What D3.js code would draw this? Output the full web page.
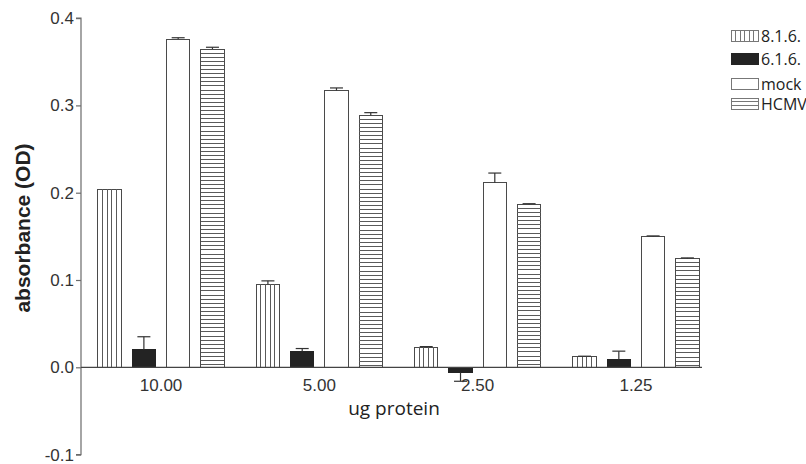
<!DOCTYPE html>
<html>
<head>
<meta charset="utf-8">
<script src="https://cdn.jsdelivr.net/npm/d3@7/dist/d3.min.js"></script>
<style>
  html, body { margin: 0; padding: 0; background: #fff; }
  svg { display: block; }
</style>
</head>
<body>
<svg id="chart" width="806" height="464"></svg>
<script>
// ---- data ----
const categories = ["10.00", "5.00", "2.50", "1.25"];
const seriesNames = ["8.1.6.", "6.1.6.", "mock", "HCMV"];
const values816 = [0.204, 0.095, 0.023, 0.012];
const errors816 = [0, 0.004, 0.0007, 0.0007];
const values616 = [0.020, 0.018, -0.006, 0.009];
const errors616 = [0.015, 0.0035, 0.010, 0.0095];
const valuesMock = [0.376, 0.317, 0.2115, 0.1497];
const errorsMock = [0.0015, 0.003, 0.011, 0.0008];
const valuesHCMV = [0.3646, 0.2887, 0.1867, 0.1245];
const errorsHCMV = [0.002, 0.003, 0.0007, 0.0008];
const yTickValues = [0.4, 0.3, 0.2, 0.1, 0.0, -0.1];
const yTickLabels = ["0.4", "0.3", "0.2", "0.1", "0.0", "-0.1"];
const yTitle = "absorbance (OD)";
const xTitle = "ug protein";

// ---- build table ----
const seriesValues = [values816, values616, valuesMock, valuesHCMV];
const seriesErrors = [errors816, errors616, errorsMock, errorsHCMV];
const rows = [];
categories.forEach((c, i) => {
  seriesNames.forEach((s, j) => {
    rows.push({cat: c, series: s, si: j, value: seriesValues[j][i], err: seriesErrors[j][i]});
  });
});

const svg = d3.select("#chart");
const axisColor = "#6b6b6b";
const barStroke = "#4a4a4a";
const stripeColor = "#5a5a5a";

// ---- scales ----
const y = d3.scaleLinear().domain([-0.1, 0.4]).range([454.6, 18.1]);
const x0 = d3.scaleBand().domain(categories).range([81, 716]).paddingInner(0.203).paddingOuter(0.107);
const x1 = d3.scaleBand().domain(seriesNames).range([0, x0.bandwidth()]).paddingInner(0.32).paddingOuter(0);

// ---- y axis ----
const yAxis = d3.axisLeft(y).tickValues(yTickValues).tickSize(5).tickPadding(2)
  .tickFormat((d, i) => yTickLabels[i]);
const gy = svg.append("g").attr("transform", "translate(81,0)").call(yAxis);
gy.select(".domain").attr("stroke", axisColor).attr("stroke-width", 1.2).attr("d", `M-5,${y(0.4)}H0V${y(-0.1)}H-5`);
gy.selectAll(".tick line").attr("stroke", axisColor).attr("stroke-width", 1.2);
gy.selectAll(".tick text").attr("fill", "#333").style("font-family", "'Liberation Sans', Arial, sans-serif").style("font-size", "17px");

// ---- bars ----
const bars = svg.append("g");
rows.forEach(r => {
  const bx = x0(r.cat) + x1(r.series);
  const bw = x1.bandwidth();
  const top = y(Math.max(0, r.value));
  const bot = y(Math.min(0, r.value));
  const g = bars.append("g");
  const fill = r.si === 1 ? "#232323" : "#fff";
  g.append("rect").attr("x", bx).attr("y", top).attr("width", bw).attr("height", bot - top)
    .attr("fill", fill).attr("stroke", r.si === 1 ? "#232323" : barStroke).attr("stroke-width", 1)
    .attr("shape-rendering", "crispEdges");
  if (r.si === 0) {
    d3.range(1, 5).forEach(k => {
      g.append("line").attr("x1", bx + k * bw / 5).attr("x2", bx + k * bw / 5)
        .attr("y1", top).attr("y2", bot).attr("stroke", stripeColor).attr("stroke-width", 1)
        .attr("shape-rendering", "crispEdges");
    });
  }
  if (r.si === 3) {
    const step = 4.1;
    d3.range(top + step, bot - 1, step).forEach(yy => {
      g.append("line").attr("x1", bx).attr("x2", bx + bw).attr("y1", yy).attr("y2", yy)
        .attr("stroke", stripeColor).attr("stroke-width", 1).attr("shape-rendering", "crispEdges");
    });
  }
  // error bar (one-sided, outward)
  if (r.err > 0) {
    const cx = bx + bw / 2;
    const end = r.value >= 0 ? r.value + r.err : r.value - r.err;
    const ys = y(r.value), ye = y(end);
    g.append("line").attr("x1", cx).attr("x2", cx).attr("y1", ys).attr("y2", ye)
      .attr("stroke", "#333").attr("stroke-width", 1.2);
    g.append("line").attr("x1", cx - 6.5).attr("x2", cx + 6.5).attr("y1", ye).attr("y2", ye)
      .attr("stroke", "#333").attr("stroke-width", 1.2);
  }
});

// ---- x axis ----
const xAxis = d3.axisBottom(x0).tickSize(0).tickPadding(12);
const gx = svg.append("g").attr("transform", `translate(0,${y(0)})`).call(xAxis);
gx.select(".domain").attr("stroke", "#444").attr("stroke-width", 1.2).attr("d", "M81,0H702");
gx.selectAll(".tick text").attr("fill", "#333").style("font-family", "'Liberation Sans', Arial, sans-serif").style("font-size", "17px");

// ---- titles ----
svg.append("text").attr("transform", "translate(30,228) rotate(-90)")
  .attr("text-anchor", "middle").attr("fill", "#222")
  .style("font-family", "'Liberation Sans', Arial, sans-serif").style("font-weight", "bold").style("font-size", "21px")
  .text(yTitle);
svg.append("text").attr("x", 394).attr("y", 415).attr("text-anchor", "middle").attr("fill", "#222")
  .style("font-family", "'Open Sans', sans-serif").style("font-size", "19px").text(xTitle);

// ---- legend ----
const legendTops = [30, 53, 78, 98];
const lg = svg.append("g");
seriesNames.forEach((s, j) => {
  const lx = 731, ly = legendTops[j], lw = 27, lh = 11;
  const item = lg.append("g");
  item.append("rect").attr("x", lx).attr("y", ly).attr("width", lw).attr("height", lh)
    .attr("fill", j === 1 ? "#232323" : "#fff").attr("stroke", j === 1 ? "#232323" : "#777")
    .attr("stroke-width", 1).attr("shape-rendering", "crispEdges");
  if (j === 0) {
    d3.range(1, 6).forEach(k => item.append("line").attr("x1", lx + k * lw / 6).attr("x2", lx + k * lw / 6)
      .attr("y1", ly).attr("y2", ly + lh).attr("stroke", "#777").attr("shape-rendering", "crispEdges"));
  }
  if (j === 3) {
    d3.range(1, 3).forEach(k => item.append("line").attr("x1", lx).attr("x2", lx + lw)
      .attr("y1", ly + k * lh / 3).attr("y2", ly + k * lh / 3).attr("stroke", "#777").attr("shape-rendering", "crispEdges"));
  }
  item.append("text").attr("x", 761).attr("y", ly + lh + 1).attr("fill", "#222")
    .style("font-family", "'Open Sans', sans-serif").style("font-size", "16px").text(s);
});
</script>
</body>
</html>
